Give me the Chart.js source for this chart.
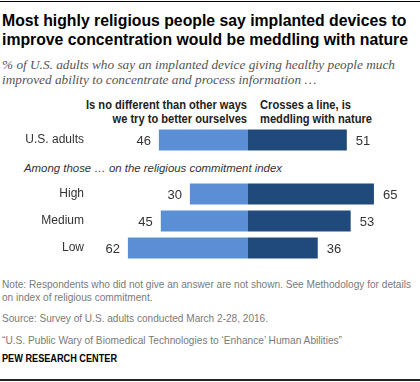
<!DOCTYPE html>
<html>
<head>
<meta charset="utf-8">
<script src="https://cdn.jsdelivr.net/npm/chart.js@4/dist/chart.umd.min.js"></script>
<style>
  html, body { margin: 0; padding: 0; background: #fff; }
  #page { position: relative; width: 420px; height: 382px; overflow: hidden; background: #fff; }
  .t { position: absolute; white-space: nowrap; transform-origin: 0 0; }
  #topline { position: absolute; left: 0; top: 1px; width: 420px; height: 1px; background: #000; }
  #botline { position: absolute; left: 0; top: 379px; width: 420px; height: 2px; background: #222; }
  #title { left: 2px; top: 11px; font: bold 17px/19px "Liberation Sans", sans-serif; color: #000; }
  #subtitle { left: 2px; top: 57px; font: italic 13px/15px "Liberation Serif", serif; color: #555; }
  .hdr { top: 98px; font: bold 12px/14px "Liberation Sans", sans-serif; color: #222; }
  #hleft { right: 173px; text-align: right; transform-origin: 100% 0; }
  #hright { left: 260px; text-align: left; }
  #among { left: 24px; top: 161px; font: italic 11.5px/14px "Liberation Sans", sans-serif; color: #333; }
  .note { left: 2px; font: 11px/13px "Liberation Sans", sans-serif; color: #7a7a7a; }
  #pew { left: 2px; top: 352px; font: bold 11px/13px "Liberation Sans", sans-serif; color: #000; }
  canvas { position: absolute; left: 0; top: 0; }
</style>
</head>
<body>
<div id="page">
  <div id="topline"></div>
  <div class="t" id="title" data-w="406">Most highly religious people say implanted devices to<br>improve concentration would be meddling with nature</div>
  <div class="t" id="subtitle" data-w="393">% of U.S. adults who say an implanted device giving healthy people much<br>improved ability to concentrate and process information …</div>
  <div class="t hdr" id="hleft" data-w="161">Is no different than other ways<br>we try to better ourselves</div>
  <div class="t hdr" id="hright" data-w="112">Crosses a line, is<br>meddling with nature</div>
  <div class="t" id="among" data-w="258">Among those … on the religious commitment index</div>
  <div class="t note" style="top:278px" data-w="409">Note: Respondents who did not give an answer are not shown. See Methodology for details<br>on index of religious commitment.</div>
  <div class="t note" style="top:312px" data-w="266">Source: Survey of U.S. adults conducted March 2-28, 2016.</div>
  <div class="t note" style="top:334px" data-w="340">“U.S. Public Wary of Biomedical Technologies to ‘Enhance’ Human Abilities”</div>
  <div class="t" id="pew" data-w="115">PEW RESEARCH CENTER</div>
  <div id="botline"></div>
  <div style="position:absolute;left:0;top:0;width:420px;height:382px;">
    <canvas id="c" width="420" height="382"></canvas>
  </div>
</div>
<script>
// ---- data ----
const categories = ["U.S. adults", "", "High", "Medium", "Low"];
const noDifferent = [46, null, 30, 45, 62];   // left side
const crossesLine = [51, null, 65, 53, 36];   // right side
const seriesNames = ["Is no different than other ways we try to better ourselves", "Crosses a line, is meddling with nature"];
const colorLight = "#5a8fd5";
const colorDark = "#214a7c";

// condense text horizontally to mimic the narrow original typeface
document.querySelectorAll(".t[data-w]").forEach(el => {
  const natural = el.getBoundingClientRect().width;
  const target = parseFloat(el.dataset.w);
  if (natural > 0) el.style.transform = "scaleX(" + (target / natural) + ")";
});

const valueLabels = {
  id: "valueLabels",
  afterDatasetsDraw(chart) {
    const ctx = chart.ctx;
    ctx.save();
    ctx.font = "13px 'Liberation Sans', Arial, sans-serif";
    ctx.fillStyle = "#333";
    ctx.textBaseline = "middle";
    chart.data.datasets.forEach((ds, di) => {
      const meta = chart.getDatasetMeta(di);
      meta.data.forEach((el, i) => {
        const v = ds.data[i];
        if (v === null || v === undefined) return;
        if (v < 0) {
          ctx.textAlign = "right";
          ctx.fillText(String(Math.abs(v)), el.x - 8, el.y + 1);
        } else {
          ctx.textAlign = "left";
          ctx.fillText(String(v), el.x + 9, el.y + 1);
        }
      });
    });
    ctx.restore();
  }
};

new Chart(document.getElementById("c"), {
  type: "bar",
  data: {
    labels: categories,
    datasets: [
      { label: seriesNames[0], data: noDifferent.map(v => v === null ? null : -v), backgroundColor: colorLight, borderWidth: 0, barPercentage: 0.78, categoryPercentage: 1 },
      { label: seriesNames[1], data: crossesLine, backgroundColor: colorDark, borderWidth: 0, barPercentage: 0.78, categoryPercentage: 1 }
    ]
  },
  options: {
    indexAxis: "y",
    responsive: false,
    animation: false,
    layout: { padding: { left: 0, right: 17, top: 126.5, bottom: 120.5 } },
    plugins: { legend: { display: false }, tooltip: { enabled: false } },
    scales: {
      x: { stacked: true, min: -80, max: 80, display: false },
      y: {
        stacked: true,
        grid: { display: false, drawTicks: false },
        border: { display: false },
        ticks: { padding: 9, color: "#333", font: { family: "'Liberation Sans', Arial, sans-serif", size: 12 } },
        afterFit(scale) { scale.width = 93; }
      }
    }
  },
  plugins: [valueLabels]
});
</script>
</body>
</html>
